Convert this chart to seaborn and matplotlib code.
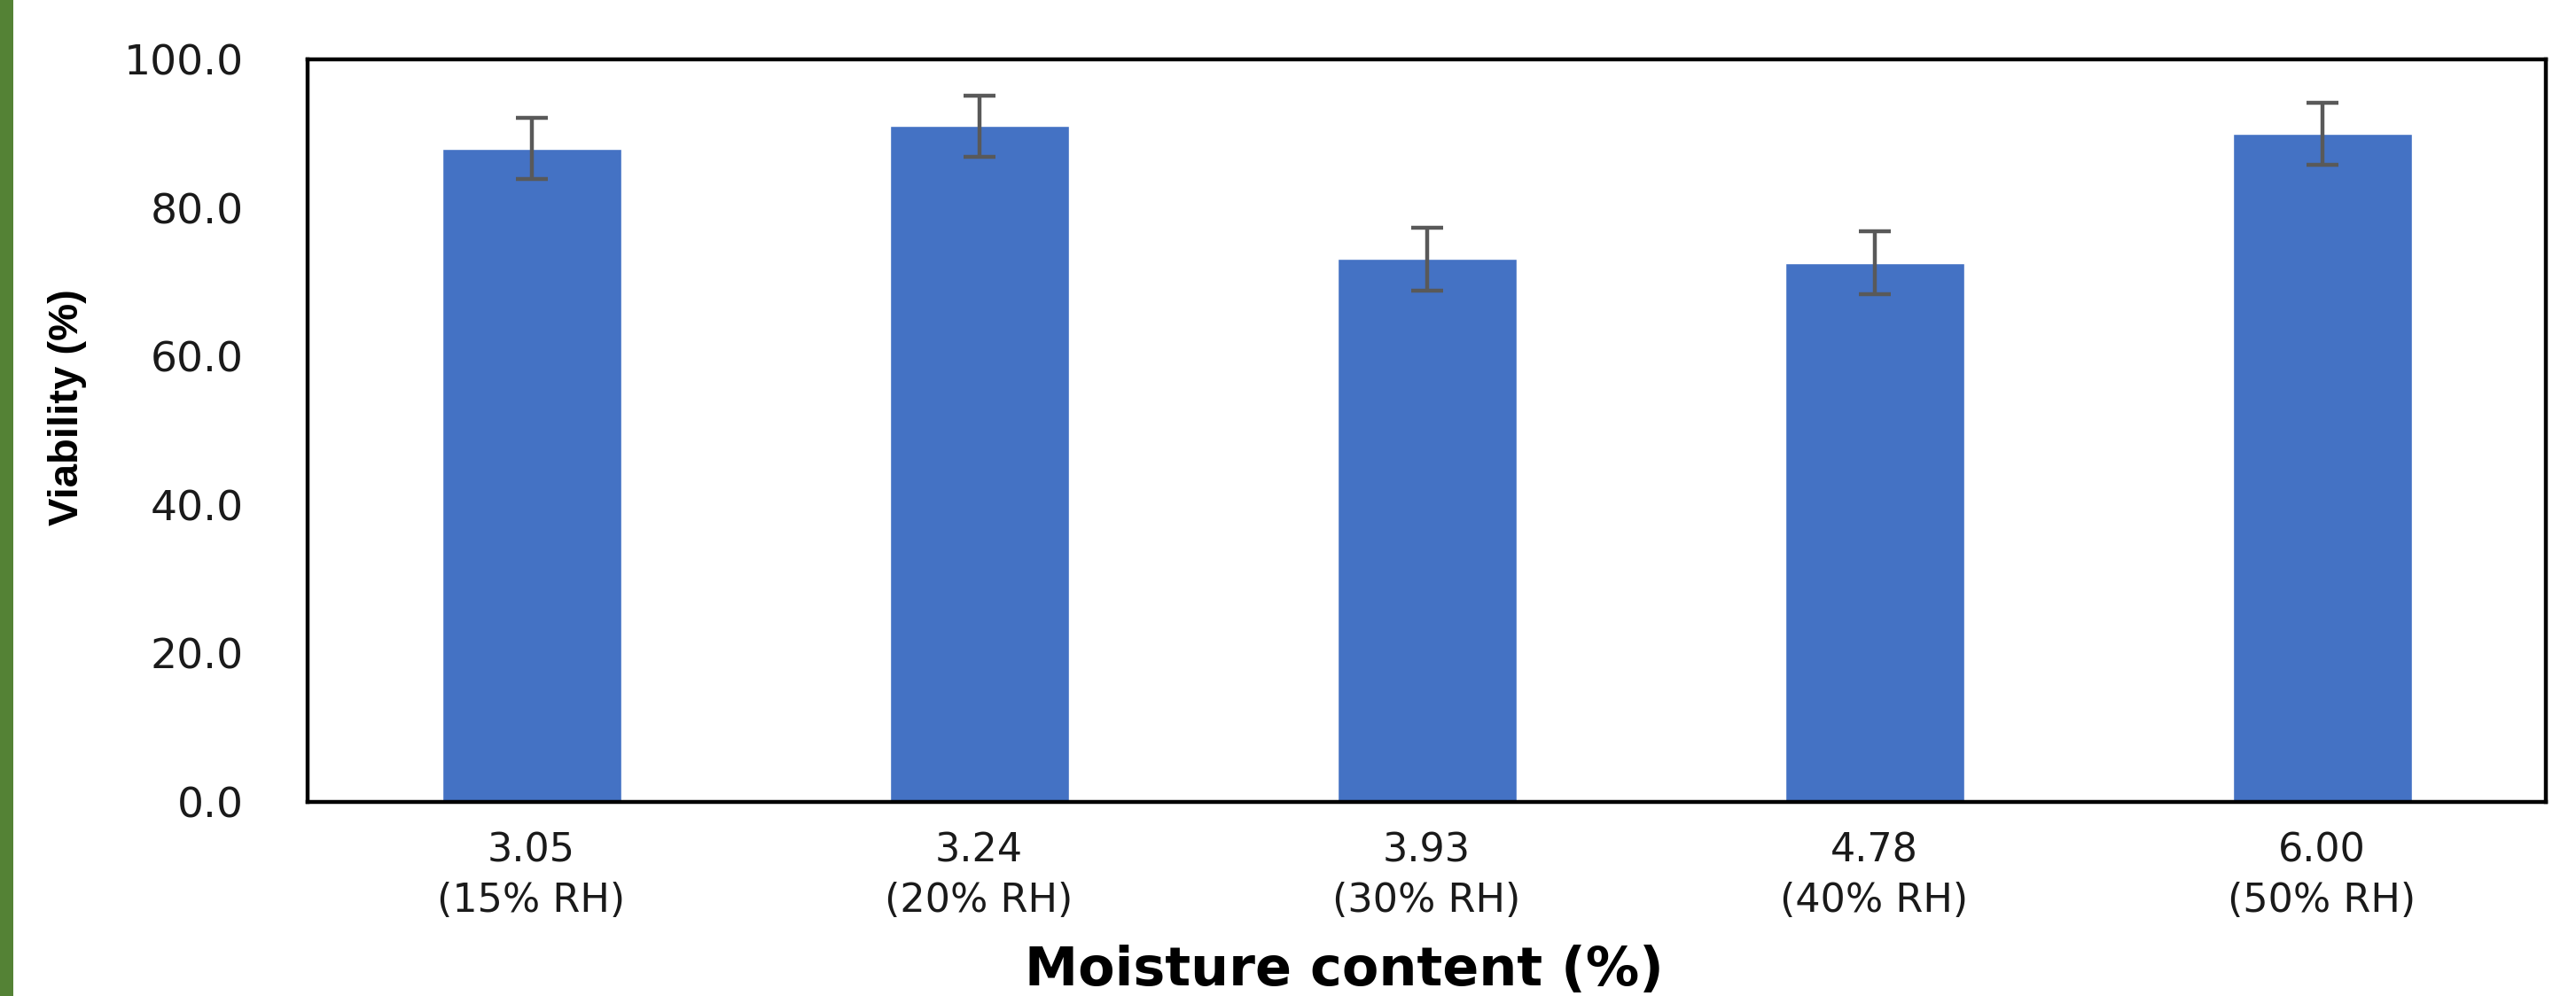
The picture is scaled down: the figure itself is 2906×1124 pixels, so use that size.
import matplotlib
matplotlib.use("Agg")
import matplotlib.pyplot as plt
import seaborn as sns
import numpy as np
from matplotlib.patches import Rectangle

# ---- data ----
moisture = ["3.05", "3.24", "3.93", "4.78", "6.00"]
rh_labels = ["(15% RH)", "(20% RH)", "(30% RH)", "(40% RH)", "(50% RH)"]
viability = [88.0, 91.0, 73.1, 72.6, 90.0]
viability_err = [4.1, 4.1, 4.2, 4.2, 4.2]
yticks = [0, 20, 40, 60, 80, 100]

categories = [f"{m}\n{r}" for m, r in zip(moisture, rh_labels)]

sns.set_theme(style="white")
plt.rcParams['font.family'] = ['DejaVu Sans']

fig = plt.figure(figsize=(29.06, 11.24), dpi=100)
ax = fig.add_axes([347/2906, 219/1124, (2872-347)/2906, (905-67)/1124])

sns.barplot(x=categories, y=viability, color="#4472C4", saturation=1,
            width=0.4, errorbar=None, ax=ax)
ax.errorbar(np.arange(len(categories)), viability, yerr=viability_err,
            fmt="none", ecolor="#595959", elinewidth=3.2, capsize=13,
            capthick=3.2, zorder=5)

ax.set_ylim(0, 100)
ax.set_xlim(-0.5, len(categories) - 0.5)
ax.set_yticks(yticks)
ax.set_yticklabels([f"{v:.1f}" for v in yticks])

for s in ax.spines.values():
    s.set_visible(True)
    s.set_color("black")
    s.set_linewidth(3.2)

ax.tick_params(axis="y", length=0, pad=52, labelsize=34, labelcolor="#1a1a1a")
ax.tick_params(axis="x", length=0, pad=24, labelsize=32, labelcolor="#1a1a1a")
for t in ax.get_xticklabels():
    t.set_linespacing(1.4)

ax.set_ylabel("Viability (%)", fontsize=34, fontweight="bold",
              family=["Liberation Sans Narrow", "Liberation Sans", "DejaVu Sans"],
              color="black", va="center")
ax.yaxis.set_label_coords(-0.1073, 0.531)
ax.set_xlabel("Moisture content (%)", fontsize=43.5, fontweight="bold", color="black")
ax.xaxis.set_label_coords(0.463, -0.227)
ax.xaxis.label.set_va("center")

# green stripe at left edge
fig.patches.append(Rectangle((0, 0), 15/2906, 1, transform=fig.transFigure,
                             facecolor="#548235", edgecolor="none", zorder=10))

fig.savefig("out.png", dpi=100, facecolor="white")
